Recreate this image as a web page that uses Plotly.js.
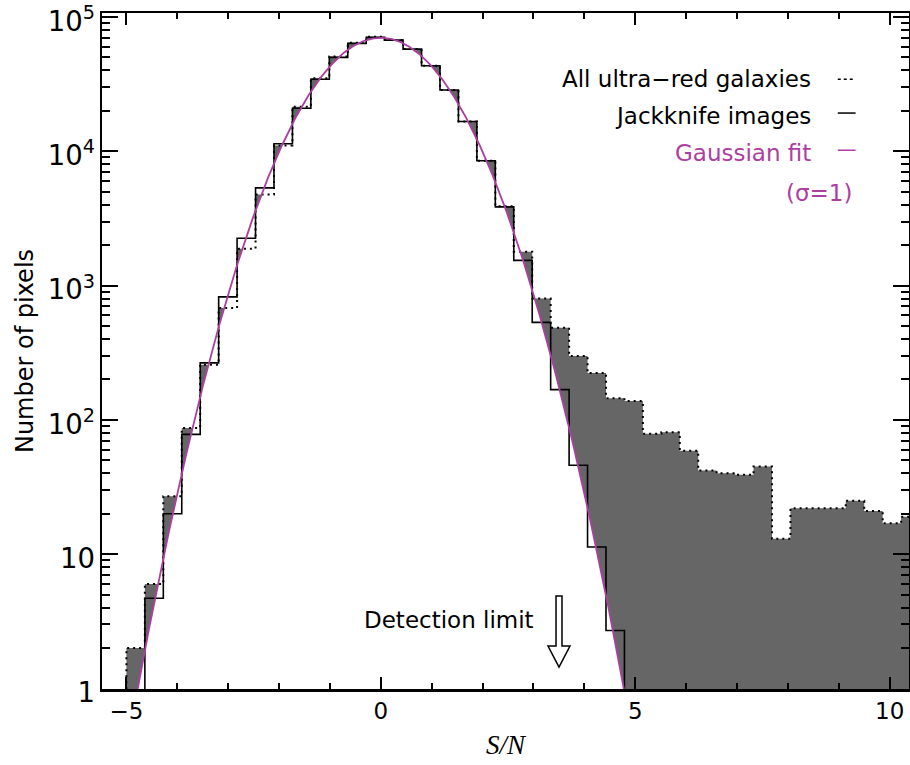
<!DOCTYPE html>
<html>
<head>
<meta charset="utf-8">
<script src="https://cdn.plot.ly/plotly-3.0.1.min.js"></script>
<style>html,body{margin:0;padding:0;background:#fff}#chart{width:910px;height:765px}</style>
</head>
<body>
<div id="chart"></div>
<script>
// Histogram binning (S/N)
const binStart = -5.0;
const binWidth = 0.3625;

// "All ultra-red galaxies" histogram counts (dotted, grey-filled above the fit)
const allCounts = [2.0, 6.0, 27, 87, 257, 680, 1880, 4770, 11060, 21500,
  35000, 50900, 64300, 71200, 67300, 57700, 43400, 28650, 16700, 8500,
  3900, 1790, 800, 486, 299, 223, 145, 138, 79, 81,
  59, 42, 40, 39, 45, 13, 22, 22, 22, 25,
  21, 17, 19];

// "Jackknife images" histogram counts (solid)
const jackCounts = [0, 4.7, 20, 78, 266, 824, 2250, 5340, 11380, 20950,
  34400, 50100, 63600, 70500, 67300, 57700, 43400, 28650, 16680, 8510,
  3860, 1540, 532, 168, 46, 11.3, 2.7, 0, 0, 0,
  0, 0, 0, 0, 0, 0, 0, 0, 0, 0,
  0, 0, 0];

// Gaussian fit parameters
const fitAmp = 70000;
const fitMean = 0.0;
const fitSigma = 1.012;

const FLOOR = 1e-3;
const MAG = 'rgb(172,64,160)';

function stepXY(counts) {
  const x = [binStart], y = [FLOOR];
  for (let i = 0; i < counts.length; i++) {
    x.push(binStart + i * binWidth);
    y.push(counts[i] > 0 ? counts[i] : FLOOR);
  }
  const end = binStart + counts.length * binWidth;
  x.push(end); y.push(counts[counts.length - 1] > 0 ? counts[counts.length - 1] : FLOOR);
  x.push(end); y.push(FLOOR);
  return {x, y};
}

const allStep = stepXY(allCounts);
const jackStep = stepXY(jackCounts);

const gx = [], gy = [];
for (let v = -6.5; v <= 6.5 + 1e-9; v += 0.02) {
  gx.push(v);
  gy.push(fitAmp * Math.exp(-Math.pow(v - fitMean, 2) / (2 * fitSigma * fitSigma)));
}
const gxFill = gx.slice(), gyFill = gy.slice();
gxFill.push(gx[gx.length - 1]); gyFill.push(FLOOR);
gxFill.push(gx[0]); gyFill.push(FLOOR);

const traces = [
  {x: allStep.x, y: allStep.y, type: 'scatter', mode: 'lines', line: {shape: 'hv', width: 0},
   fill: 'toself', fillcolor: 'rgb(102,102,102)', hoverinfo: 'skip', showlegend: false},
  {x: gxFill, y: gyFill, type: 'scatter', mode: 'lines', line: {width: 0},
   fill: 'toself', fillcolor: '#ffffff', hoverinfo: 'skip', showlegend: false},
  {x: allStep.x, y: allStep.y, type: 'scatter', mode: 'lines',
   line: {shape: 'hv', width: 2, color: '#000', dash: '2px,4px'}, name: 'All ultra-red galaxies', showlegend: false},
  {x: jackStep.x, y: jackStep.y, type: 'scatter', mode: 'lines',
   line: {shape: 'hv', width: 1.6, color: '#000'}, name: 'Jackknife images', showlegend: false},
  {x: gx, y: gy, type: 'scatter', mode: 'lines',
   line: {width: 1.8, color: MAG}, name: 'Gaussian fit', showlegend: false}
];

const FONT = 'DejaVu Sans, sans-serif';
const TXT = 23;

const layout = {
  width: 910, height: 765,
  margin: {l: 102, r: 1, t: 13, b: 76},
  paper_bgcolor: '#fff', plot_bgcolor: '#fff',
  showlegend: false,
  font: {family: FONT, size: TXT, color: '#000'},
  xaxis: {
    range: [-5.48, 10.38], showgrid: false, zeroline: false,
    showline: true, linewidth: 2.5, linecolor: '#000', mirror: 'allticks',
    ticks: 'inside', ticklen: 12, tickwidth: 2, tickcolor: '#000',
    tickmode: 'linear', tick0: -5, dtick: 5,
    tickfont: {family: FONT, size: 23},
    minor: {tickmode: 'linear', tick0: 0, dtick: 1, ticks: 'inside', ticklen: 6, tickwidth: 2, tickcolor: '#000', showgrid: false},
    title: {text: '<i>S/N</i>', font: {family: 'Liberation Serif, serif', size: 27}, standoff: 12}
  },
  yaxis: {
    type: 'log', range: [-0.004, 5.03], showgrid: false, zeroline: false,
    showline: true, linewidth: 2.5, linecolor: '#000', mirror: 'allticks',
    ticks: 'inside', ticklen: 16, tickwidth: 2, tickcolor: '#000',
    tickmode: 'linear', tick0: 0, dtick: 1, exponentformat: 'power',
    ticklabeloverflow: 'allow', ticklabelshift: 4,
    tickfont: {family: FONT, size: 22},
    minor: {dtick: 'D1', ticks: 'inside', ticklen: 8, tickwidth: 2, tickcolor: '#000', showgrid: false},
    title: {text: 'Number of pixels', font: {family: FONT, size: 24}, standoff: 8}
  },
  annotations: [
    {xref: 'x', yref: 'paper', x: 8.49, y: 0.902, xanchor: 'right', yanchor: 'middle', showarrow: false,
     text: 'All ultra\u2212red galaxies', font: {family: FONT, size: TXT, color: '#000'}},
    {xref: 'x', yref: 'paper', x: 8.49, y: 0.848, xanchor: 'right', yanchor: 'middle', showarrow: false,
     text: 'Jackknife images', font: {family: FONT, size: TXT, color: '#000'}},
    {xref: 'x', yref: 'paper', x: 8.49, y: 0.793, xanchor: 'right', yanchor: 'middle', showarrow: false,
     text: 'Gaussian fit', font: {family: FONT, size: TXT, color: MAG}},
    {xref: 'x', yref: 'paper', x: 9.30, y: 0.734, xanchor: 'right', yanchor: 'middle', showarrow: false,
     text: '(\u03c3=1)', font: {family: FONT, size: TXT, color: MAG}},
    {xref: 'x', yref: 'paper', x: 3.04, y: 0.102, xanchor: 'right', yanchor: 'middle', showarrow: false,
     text: 'Detection limit', font: {family: FONT, size: TXT, color: '#000'}}
  ],
  shapes: [
    {type: 'line', xref: 'x', yref: 'paper', x0: 8.98, x1: 9.33, y0: 0.902, y1: 0.902,
     line: {color: '#000', width: 1.5, dash: 'dot'}},
    {type: 'line', xref: 'x', yref: 'paper', x0: 8.98, x1: 9.33, y0: 0.852, y1: 0.852,
     line: {color: '#000', width: 1.5}},
    {type: 'line', xref: 'x', yref: 'paper', x0: 8.98, x1: 9.33, y0: 0.797, y1: 0.797,
     line: {color: MAG, width: 1.5}},
    {type: 'path', xref: 'paper', yref: 'paper',
     path: 'M0.5626,0.1376 L0.5700,0.1376 L0.5700,0.0636 L0.5799,0.0636 L0.5663,0.0325 L0.5527,0.0636 L0.5626,0.0636 Z',
     fillcolor: '#fff', line: {color: '#000', width: 1.5}}
  ]
};

Plotly.newPlot('chart', traces, layout, {displayModeBar: false, staticPlot: true});
</script>
</body>
</html>
